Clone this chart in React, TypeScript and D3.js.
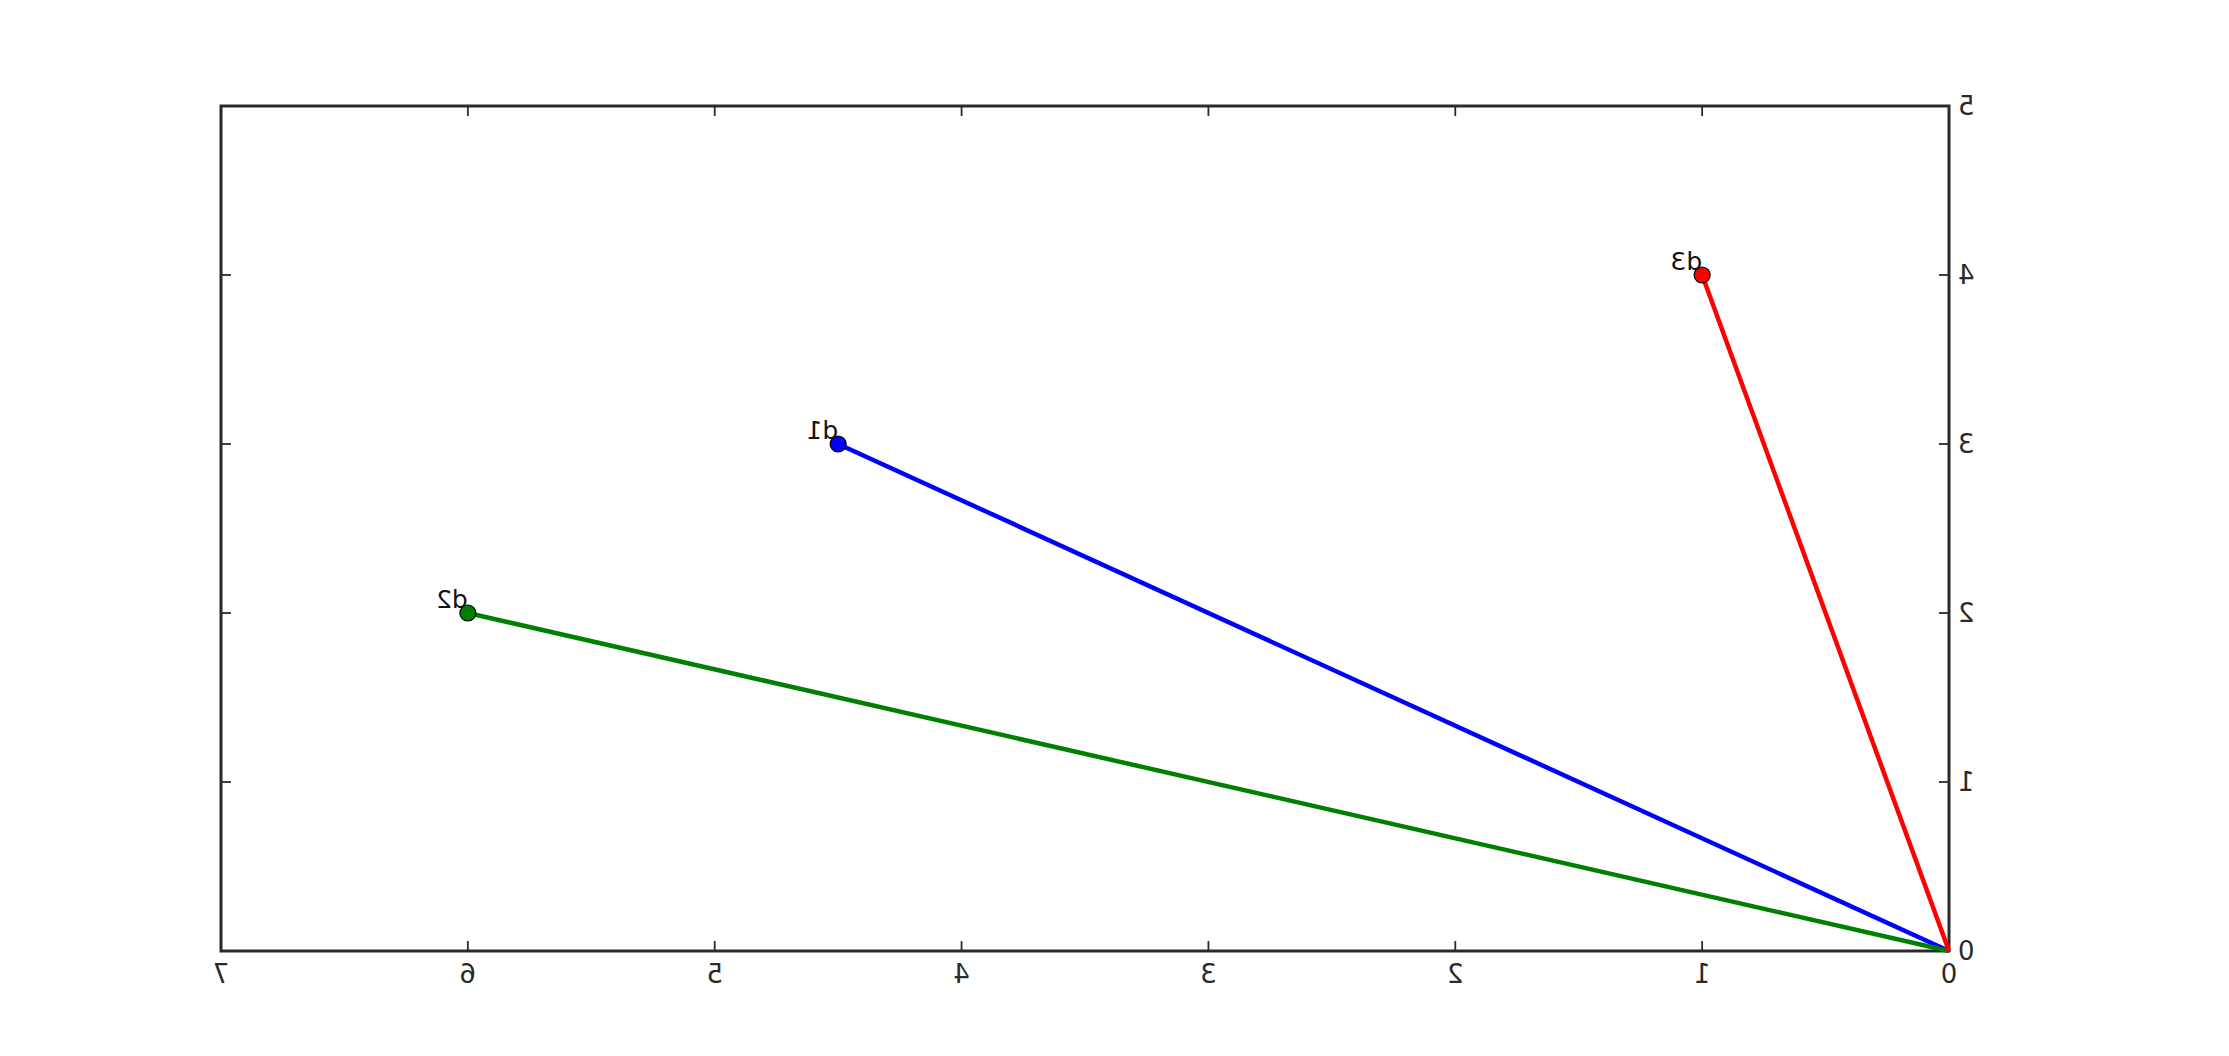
import { useEffect, useRef } from "react";
import * as d3 from "d3";

// vectors drawn from the origin (picture is horizontally mirrored)
const vectorNames = ["d1", "d2", "d3"];
const vectorX = [4.5, 6, 1];
const vectorY = [3, 2, 4];
const vectorColors = ["#0000ff", "#008000", "#ff0000"];

const xTicks = [0, 1, 2, 3, 4, 5, 6, 7];
const yTicks = [0, 1, 2, 3, 4, 5];

const WIDTH = 2229;
const HEIGHT = 1056;

const App: React.FC = () => {
  const svgRef = useRef<SVGSVGElement>(null);

  useEffect(() => {
    if (!svgRef.current) return;

    const svg = d3.select(svgRef.current);
    svg.selectAll("*").remove();

    const left = 221;
    const right = 1949;
    const top = 106;
    const bottom = 951;

    // mirrored x: 0 sits on the right edge
    const x = d3.scaleLinear().domain([0, 7]).range([right, left]);
    const y = d3.scaleLinear().domain([0, 5]).range([bottom, top]);

    const font = "'DejaVu Sans', sans-serif";
    const tickLen = 10;
    const ink = "#2a2a2a";

    const g = svg.append("g");

    // ticks, inward on all four sides
    xTicks.forEach((t) => {
      g.append("line")
        .attr("x1", x(t)).attr("x2", x(t))
        .attr("y1", bottom).attr("y2", bottom - tickLen)
        .attr("stroke", ink).attr("stroke-width", 1.8);
      g.append("line")
        .attr("x1", x(t)).attr("x2", x(t))
        .attr("y1", top).attr("y2", top + tickLen)
        .attr("stroke", ink).attr("stroke-width", 1.8);
      g.append("text")
        .attr("transform", `translate(${x(t)}, ${bottom + 32}) scale(-1,1)`)
        .attr("text-anchor", "middle")
        .attr("font-family", font)
        .attr("font-size", 26)
        .attr("fill", ink)
        .text(String(t));
    });

    yTicks.forEach((t) => {
      g.append("line")
        .attr("x1", right).attr("x2", right - tickLen)
        .attr("y1", y(t)).attr("y2", y(t))
        .attr("stroke", ink).attr("stroke-width", 1.8);
      g.append("line")
        .attr("x1", left).attr("x2", left + tickLen)
        .attr("y1", y(t)).attr("y2", y(t))
        .attr("stroke", ink).attr("stroke-width", 1.8);
      g.append("text")
        .attr("transform", `translate(${right + 9}, ${y(t)}) scale(-1,1)`)
        .attr("text-anchor", "end")
        .attr("dominant-baseline", "central")
        .attr("font-family", font)
        .attr("font-size", 26)
        .attr("fill", ink)
        .text(String(t));
    });

    // frame
    g.append("rect")
      .attr("x", left)
      .attr("y", top)
      .attr("width", right - left)
      .attr("height", bottom - top)
      .attr("fill", "none")
      .attr("stroke", ink)
      .attr("stroke-width", 3);

    const line = d3
      .line<[number, number]>()
      .x((d) => x(d[0]))
      .y((d) => y(d[1]));

    vectorNames.forEach((name, i) => {
      g.append("path")
        .datum([[0, 0], [vectorX[i], vectorY[i]]] as [number, number][])
        .attr("fill", "none")
        .attr("stroke", vectorColors[i])
        .attr("stroke-width", 4.5)
        .attr("d", line);
    });

    vectorNames.forEach((name, i) => {
      g.append("circle")
        .attr("cx", x(vectorX[i]))
        .attr("cy", y(vectorY[i]))
        .attr("r", 8)
        .attr("fill", vectorColors[i])
        .attr("stroke", "#000")
        .attr("stroke-width", 1.2);

      // mirrored label, ending at the point
      g.append("text")
        .attr("transform", `translate(${x(vectorX[i])}, ${y(vectorY[i]) - 5}) scale(-1,1)`)
        .attr("text-anchor", "start")
        .attr("font-family", font)
        .attr("font-size", 25)
        .attr("fill", "#111")
        .text(name);
    });
  }, []);

  return (
    <svg
      ref={svgRef}
      width={WIDTH}
      height={HEIGHT}
      style={{ position: "absolute", left: 0, top: 0, display: "block", background: "#fff" }}
    />
  );
};

export default App;
